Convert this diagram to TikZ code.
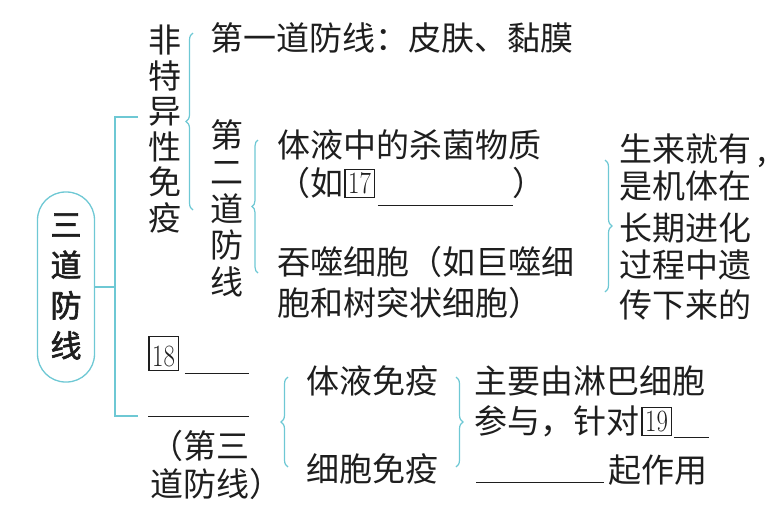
\documentclass[tikz,border=0pt]{standalone}
\usepackage{fontspec}
\usepackage{graphicx}
\usetikzlibrary{decorations.pathreplacing}
\newfontfamily\cjk{Noto Sans CJK SC}
\newfontfamily\cjkb[FakeBold=2]{Noto Sans CJK SC}
\definecolor{cy}{RGB}{110,200,212}
\definecolor{ink}{RGB}{30,30,30}
\newcommand\bxn[2][27]{\raisebox{-2pt}{\fboxsep0pt\fboxrule1.3pt\fbox{\makebox[28pt]{\rule{0pt}{#1pt}\raisebox{3.5pt}{\fontsize{31}{31}\selectfont\rmfamily\scalebox{0.8}[1]{#2}}}}}}
\newcommand\blank[2][-3]{\rule[#1pt]{#2pt}{1.2pt}}
\begin{document}
\begin{tikzpicture}[x=1pt,y=-1pt,
  txt/.style={anchor=base west,inner sep=0pt,text=ink,font=\cjk\fontsize{33}{38}\selectfont},
  vtxt/.style={anchor=center,inner sep=0pt,align=center,text=ink,font=\cjk\fontsize{33}{#1}\selectfont},
  link/.style={draw=cy,line width=1.3pt},
  brc/.style={draw=cy,line width=1.2pt,decorate,decoration={brace,amplitude=#1pt}}]
\useasboundingbox (0,0) rectangle (780,512);
% root box
\node[draw=cy,line width=1.3pt,rounded corners=28pt,minimum width=57pt,minimum height=190pt,inner sep=0pt] (root) at (66,287) {};
\node[anchor=center,inner sep=0pt,align=center,text=ink,font=\cjkb\fontsize{31}{40.3}\selectfont] (rootT) at (66,286.5) {三\\道\\防\\线};
% connector
\coordinate (jn) at (115,287);
\coordinate (ct) at (115,117);
\coordinate (cb) at (115,416);
\coordinate (et) at (138,117);
\coordinate (eb) at (138,416);
\draw[link] (root.east) -- (jn);
\draw[link] (et) -- (ct) -- (cb) -- (eb);
% non-specific
\node[vtxt=35.6] (fty) at (165,129) {非\\特\\异\\性\\免\\疫};
\draw[brc=7] (193,210) -- (193,33) node[midway] (b1) {};
\node[txt] (l1) at (210,50) {第一道防线：皮肤、黏膜};
\node[vtxt=36.75] (l2) at (227,208.5) {第\\二\\道\\防\\线};
\draw[brc=6] (258,273) -- (258,140) node[midway] (b2) {};
\node[txt] (a1) at (277,157) {体液中的杀菌物质};
\node[txt] (a2) at (277,195) {（如\hspace{1pt}\bxn{17}\hspace{3pt}\blank[-11]{135}）};
\node[txt] (a3) at (277,274) {吞噬细胞（如巨噬细};
\node[txt] (a4) at (277,315) {胞和树突状细胞）};
\draw[brc=7] (605,160) -- (605,292) node[midway] (b3) {};
\node[txt] (r1) at (619,161) {生来就有\hspace{6pt},};
\node[txt] (r2) at (619,198) {是机体在};
\node[txt] (r3) at (619,240) {长期进化};
\node[txt] (r4) at (619,277) {过程中遗};
\node[txt] (r5) at (619,317) {传下来的};
% specific
\node[txt] (s1) at (148,368) {\bxn[33]{18}\hspace{6pt}\blank[-6]{64}};
\node[txt] (s2) at (148,417) {\blank[0]{101}};
\node[txt] (s3) at (150,458) {（第三};
\node[txt] (s4) at (150,496) {道防线）};
\draw[brc=7] (288,467) -- (288,377) node[midway] (b4) {};
\node[txt] (h1) at (306,393) {体液免疫};
\node[txt] (h2) at (306,481) {细胞免疫};
\draw[brc=7] (456,377) -- (456,467) node[midway] (b5) {};
\node[txt] (m1) at (474,393) {主要由淋巴细胞};
\node[txt] (m2) at (474,433) {参与，针对\hspace{2pt}\bxn{19}\hspace{2pt}\blank[-5]{35}};
\node[txt] (m3) at (476,482) {\blank[-1]{128}\hspace{4pt}起作用};
\end{tikzpicture}
\end{document}
